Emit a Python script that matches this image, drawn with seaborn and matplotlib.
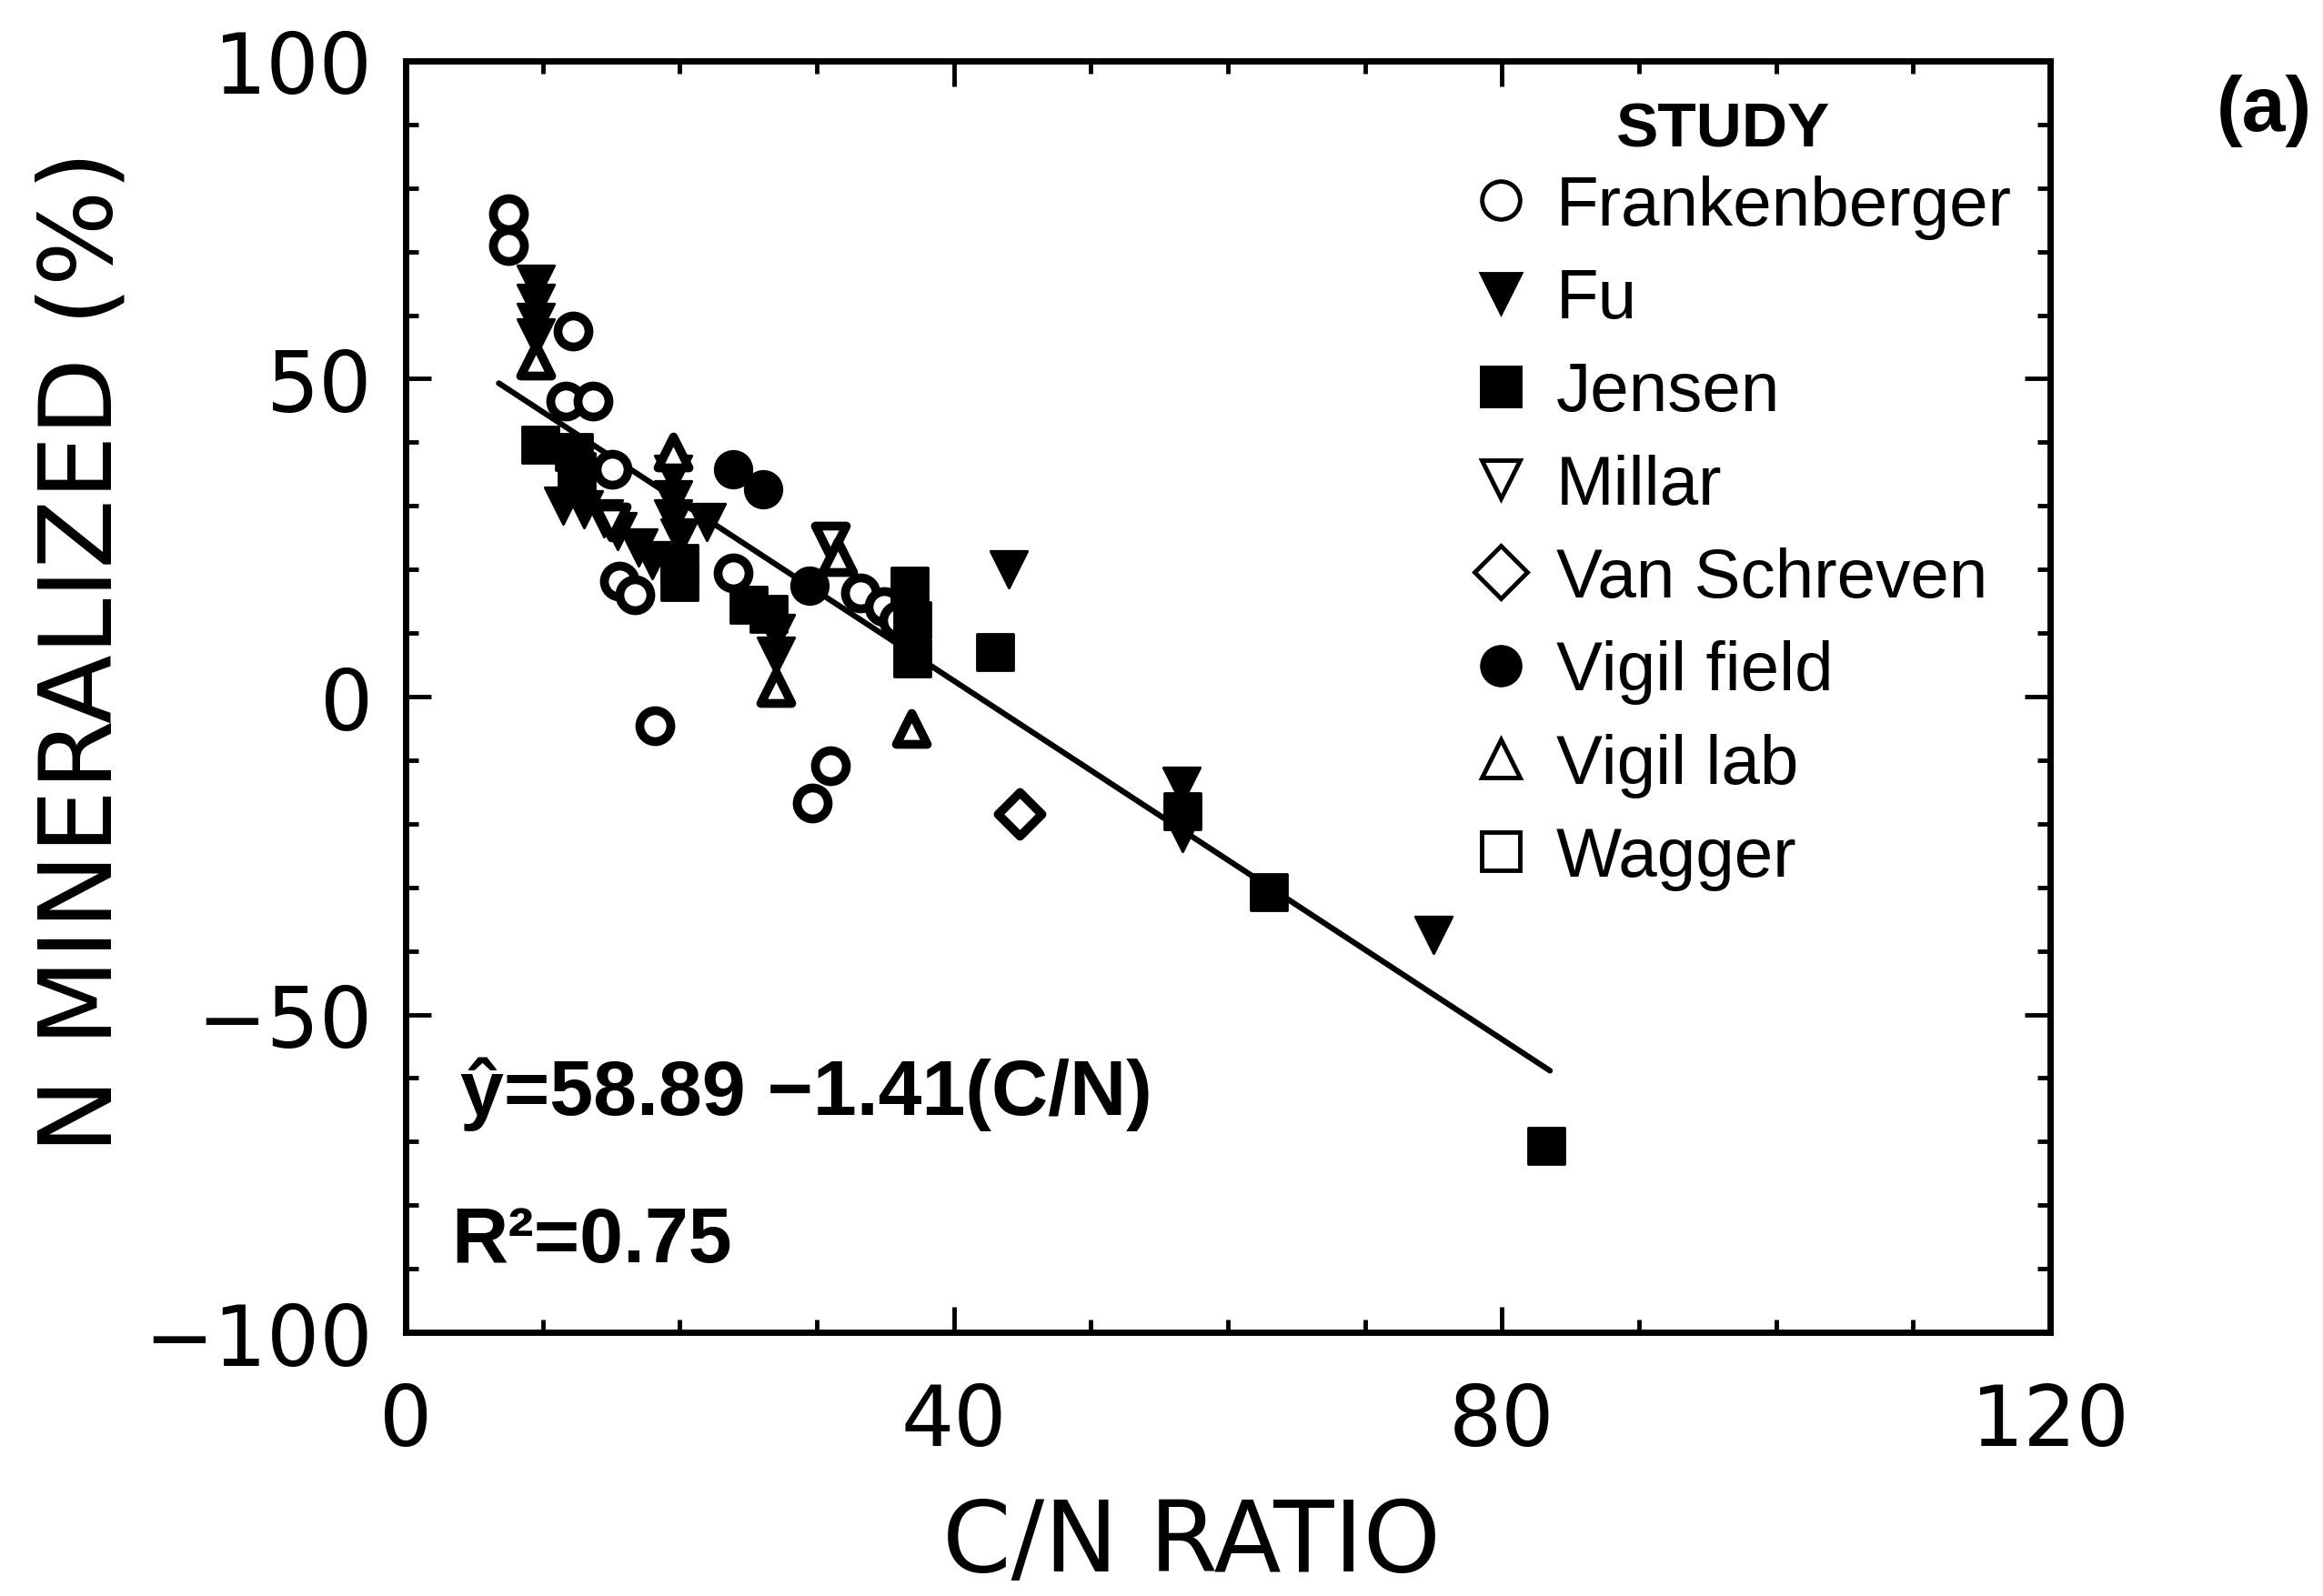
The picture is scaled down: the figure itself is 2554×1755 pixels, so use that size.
import numpy as np
import pandas as pd
import matplotlib
matplotlib.use("Agg")
import matplotlib.pyplot as plt
import seaborn as sns
from matplotlib.lines import Line2D
from matplotlib.ticker import MultipleLocator

sns.set_theme(style="ticks")
plt.rcParams["font.family"] = ["Liberation Sans", "DejaVu Sans"]
plt.rcParams["text.color"] = "black"
plt.rcParams["axes.labelcolor"] = "black"
plt.rcParams["xtick.color"] = "black"
plt.rcParams["ytick.color"] = "black"

# ---------------- data ----------------
study_order = ["Frankenberger", "Fu", "Jensen", "Millar", "Van Schreven",
               "Vigil field", "Vigil lab", "Wagger"]

frank_x = [7.5, 7.5, 12.2, 11.7, 13.7, 15.1, 15.6, 16.7, 23.9, 33.2, 34.9, 36.0, 18.2, 31.0, 29.7]
frank_y = [76.0, 71.0, 57.5, 46.5, 46.5, 35.8, 18.2, 16.0, 19.5, 16.3, 14.2, 12.0, -4.6, -10.8, -16.8]

fu_x = [9.5, 9.5, 9.5, 9.5, 11.5, 13.0, 14.5, 15.5, 17.0, 18.0, 19.5, 19.5, 19.5, 20.0,
        22.0, 27.0, 27.0, 44.0, 56.6, 56.7, 75.0]
fu_y = [65.0, 62.0, 59.0, 56.5, 30.0, 29.5, 28.0, 26.0, 23.5, 21.5, 35.0, 31.0, 28.0, 25.0,
        27.5, 10.0, 6.5, 20.0, -14.0, -21.5, -37.5]

jensen_x = [9.8, 12.3, 12.5, 20.0, 20.0, 25.0, 26.5, 36.8, 37.0, 37.0, 43.0, 56.7, 63.0, 83.2]
jensen_y = [39.6, 38.5, 35.5, 21.0, 18.0, 14.5, 13.0, 17.5, 12.0, 6.0, 7.0, -18.0, -30.8, -70.6]

millar_x = [15.0, 31.0]
millar_y = [27.5, 24.5]

vanschreven_x = [44.8]
vanschreven_y = [-18.5]

vfield_x = [23.9, 26.1, 29.5]
vfield_y = [35.8, 32.6, 17.5]

vlab_x = [9.5, 19.5, 27.0, 31.5, 36.9]
vlab_y = [53.0, 38.5, 1.5, 22.0, -5.0]

wagger_x = []
wagger_y = []

# regression line end points (from the printed equation)
intercept = 58.89
slope = -1.41
line_x = [6.8, 83.5]

x_ticks = [0, 40, 80, 120]
y_ticks = [-100, -50, 0, 50, 100]

# ---------------- build table ----------------
series = {
    "Frankenberger": (frank_x, frank_y),
    "Fu": (fu_x, fu_y),
    "Jensen": (jensen_x, jensen_y),
    "Millar": (millar_x, millar_y),
    "Van Schreven": (vanschreven_x, vanschreven_y),
    "Vigil field": (vfield_x, vfield_y),
    "Vigil lab": (vlab_x, vlab_y),
    "Wagger": (wagger_x, wagger_y),
}
rows = []
for name, (xs, ys) in series.items():
    for xv, yv in zip(xs, ys):
        rows.append({"study": name, "cn": xv, "nmin": yv})
df = pd.DataFrame(rows)

style = {
    "Frankenberger": dict(marker="o", filled=False),
    "Fu": dict(marker="v", filled=True),
    "Jensen": dict(marker="s", filled=True),
    "Millar": dict(marker="v", filled=False),
    "Van Schreven": dict(marker="D", filled=False),
    "Vigil field": dict(marker="o", filled=True),
    "Vigil lab": dict(marker="^", filled=False),
    "Wagger": dict(marker="s", filled=False),
}

# ---------------- figure ----------------
fig = plt.figure(figsize=(25.54, 17.56), dpi=100)
ax = fig.add_axes([0.1746, 0.1651, 0.708, 0.7962])

line_df = pd.DataFrame({"cn": line_x, "nmin": [intercept + slope * v for v in line_x]})
sns.lineplot(data=line_df, x="cn", y="nmin", ax=ax, color="black", linewidth=4.5, zorder=2)

for name in study_order:
    sub = df[df["study"] == name]
    if sub.empty:
        continue
    st = style[name]
    if st["filled"]:
        sns.scatterplot(data=sub, x="cn", y="nmin", ax=ax, marker=st["marker"], s=850,
                        color="black", edgecolor="black", linewidth=2, zorder=3)
    else:
        sns.scatterplot(data=sub, x="cn", y="nmin", ax=ax, marker=st["marker"], s=600,
                        color="white", edgecolor="black", linewidth=7, zorder=3)

ax.set_xlim(0, 120)
ax.set_ylim(-100, 100)
ax.set_xticks(x_ticks)
ax.set_yticks(y_ticks)
ax.xaxis.set_minor_locator(MultipleLocator(10))
ax.yaxis.set_minor_locator(MultipleLocator(10))
ax.tick_params(which="both", direction="in", top=True, right=True, color="black")
ax.tick_params(which="major", length=20, width=3.5, labelsize=66)
ax.tick_params(which="minor", length=10, width=3.5)
ax.tick_params(axis="x", which="major", pad=38)
ax.tick_params(axis="y", which="major", pad=26)
for lab in ax.get_xticklabels() + ax.get_yticklabels():
    lab.set_fontfamily("DejaVu Sans")
for sp in ax.spines.values():
    sp.set_linewidth(5)
    sp.set_color("black")

ax.set_xlabel("C/N RATIO", fontsize=78, family="DejaVu Sans")
ax.set_ylabel("N MINERALIZED (%)", fontsize=80, family="DejaVu Sans")
ax.xaxis.set_label_coords(0.478, -0.128)
ax.yaxis.set_label_coords(-0.166, 0.536)

# legend
handles = []
for name in study_order:
    st = style[name]
    handles.append(Line2D([], [], linestyle="none", marker=st["marker"], markersize=30,
                          markerfacecolor="black" if st["filled"] else "white",
                          markeredgecolor="black", markeredgewidth=3.5))
leg = ax.legend(handles, study_order, loc="upper left",
                bbox_to_anchor=(0.615, 0.949), frameon=False, fontsize=55,
                labelspacing=0.41, handletextpad=0.3, handlelength=1.0,
                borderpad=0.2)
ax.text(0.801, 0.946, "STUDY", transform=ax.transAxes, fontsize=50,
        fontweight="bold", ha="center", va="center")

ax.text(0.033, 0.172, "ŷ=58.89 −1.41(C/N)", transform=ax.transAxes,
        fontsize=62, fontweight="bold", ha="left", va="baseline")
ax.text(0.028, 0.056, "R²=0.75", transform=ax.transAxes,
        fontsize=62, fontweight="bold", ha="left", va="baseline")

fig.text(0.9746, 0.9305, "(a)", fontsize=62, fontweight="bold", ha="center", va="center")

fig.savefig("out.png", dpi=100, facecolor="white")
